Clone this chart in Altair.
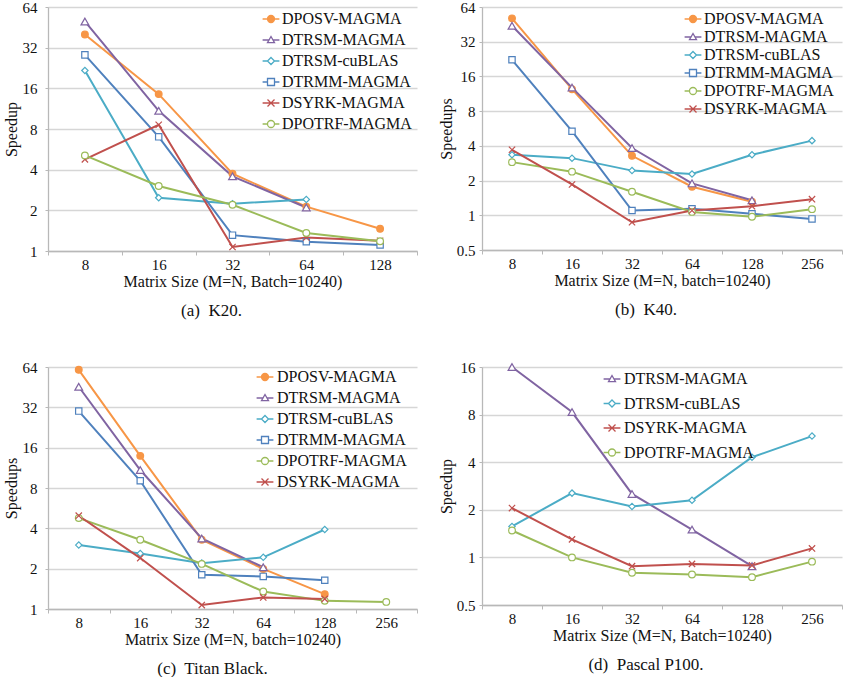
import altair as alt
import pandas as pd

FONT = "Liberation Serif"

# ---------------- data ----------------
sizes5 = ["8", "16", "32", "64", "128"]
sizes6 = ["8", "16", "32", "64", "128", "256"]

# (a) K20
a_dposv = [40, 14.5, 3.73, 2.13, 1.46]
a_trsm_magma = [50, 10.9, 3.57, 2.1, None]
a_trsm_cublas = [21.7, 2.48, 2.24, 2.41, None]
a_trmm = [28.3, 7.0, 1.31, 1.17, 1.11]
a_syrk = [4.77, 8.6, 1.07, 1.26, 1.19]
a_potrf = [5.1, 3.03, 2.2, 1.36, 1.18]

# (b) K40
b_dposv = [51, 12.4, 3.28, 1.77, 1.31, None]
b_trsm_magma = [44, 12.8, 3.83, 1.89, 1.35, None]
b_trsm_cublas = [3.35, 3.13, 2.44, 2.28, 3.35, 4.44]
b_trmm = [22.3, 5.36, 1.1, 1.14, 1.03, 0.93]
b_potrf = [2.89, 2.39, 1.6, 1.07, 0.97, 1.13]
b_syrk = [3.7, 1.85, 0.87, 1.1, 1.2, 1.38]

# (c) Titan Black
c_dposv = [61, 13.9, 3.29, 1.99, 1.29, None]
c_trsm_magma = [45.6, 10.9, 3.36, 2.05, None, None]
c_trsm_cublas = [3.0, 2.6, 2.2, 2.43, 3.92, None]
c_trmm = [30, 9.06, 1.8, 1.75, 1.64, None]
c_potrf = [4.77, 3.29, 2.17, 1.35, 1.15, 1.13]
c_syrk = [4.97, 2.4, 1.07, 1.22, 1.19, None]

# (d) Pascal P100
d_trsm_magma = [16, 8.3, 2.52, 1.5, 0.88, None]
d_trsm_cublas = [1.57, 2.55, 2.1, 2.3, 4.3, 5.85]
d_syrk = [2.05, 1.3, 0.88, 0.91, 0.89, 1.14]
d_potrf = [1.48, 1.0, 0.80, 0.78, 0.75, 0.94]

COLORS = {
    "DPOSV-MAGMA": "#F79646",
    "DTRSM-MAGMA": "#8064A2",
    "DTRSM-cuBLAS": "#4BACC6",
    "DTRMM-MAGMA": "#4F81BD",
    "DSYRK-MAGMA": "#C0504D",
    "DPOTRF-MAGMA": "#9BBB59",
}

XPATH = "M-1,-1L1,1M-1,1L1,-1"
MARKERS = {
    "DPOSV-MAGMA": ("circle", 45, "#F79646"),
    "DTRSM-MAGMA": ("triangle-up", 60, "white"),
    "DTRSM-cuBLAS": ("diamond", 40, "white"),
    "DTRMM-MAGMA": ("square", 40, "white"),
    "DSYRK-MAGMA": (XPATH, 40, "white"),
    "DPOTRF-MAGMA": ("circle", 45, "white"),
}

CIRC = ("M1,0C1,0.5523,0.5523,1,0,1C-0.5523,1,-1,0.5523,-1,0"
        "C-1,-0.5523,-0.5523,-1,0,-1C0.5523,-1,1,-0.5523,1,0Z")
LEG_PATH = {
    "DPOSV-MAGMA": "M-2.4,0L-1,0M1,0L2.4,0" + CIRC,
    "DTRSM-MAGMA": "M-2.4,0L-0.57,0M0.57,0L2.4,0M0,-1L1,0.75L-1,0.75Z",
    "DTRSM-cuBLAS": "M-2.4,0L-1,0M1,0L2.4,0M0,-1L1,0L0,1L-1,0Z",
    "DTRMM-MAGMA": "M-2.4,0L-1,0M1,0L2.4,0M-1,-1L1,-1L1,1L-1,1Z",
    "DSYRK-MAGMA": "M-2.4,0L2.4,0" + XPATH,
    "DPOTRF-MAGMA": "M-2.4,0L-1,0M1,0L2.4,0" + CIRC,
}

AXIS_STYLE = dict(labelFont=FONT, titleFont=FONT, labelFontSize=15, titleFontSize=16,
                  labelColor="#111", titleColor="#111", titleFontWeight="normal",
                  domainColor="#b8b8b8", tickColor="#b8b8b8", gridColor="#d6d6d6",
                  gridWidth=1.3, domainWidth=1.3)


def panel(sizes, series_list, ydom, yvals, ytitle, xtitle, caption,
          width, height, lx, ly, rowpad, loff, cap_dx, ylabpad, ytitlepad):
    rows = []
    for name, vals in series_list:
        for s, v in zip(sizes, vals):
            if v is not None:
                rows.append({"size": s, "series": name, "value": v})
    df = pd.DataFrame(rows)
    names = [n for n, _ in series_list]
    cols = [COLORS[n] for n in names]

    x = alt.X("size:O",
              scale=alt.Scale(type="band", domain=sizes, paddingInner=0, paddingOuter=0),
              bandPosition=0.5,
              axis=alt.Axis(title=xtitle, tickBand="extent", labelAngle=0, grid=False,
                            ticks=True, tickSize=4, labelPadding=2, titlePadding=1, **AXIS_STYLE))
    y = alt.Y("value:Q",
              scale=alt.Scale(type="log", base=2, domain=ydom, nice=False),
              axis=alt.Axis(title=ytitle, values=yvals, labelExpr="'' + datum.value",
                            grid=True, ticks=True, tickSize=3, labelPadding=ylabpad,
                            titlePadding=ytitlepad, **AXIS_STYLE))

    layers = []
    for n in names:
        layers.append(
            alt.Chart(df).transform_filter(alt.datum.series == n)
            .mark_line(strokeWidth=2, color=COLORS[n]).encode(x=x, y=y)
        )
    for n in names:
        shp, sz, fl = MARKERS[n]
        layers.append(
            alt.Chart(df).transform_filter(alt.datum.series == n).mark_point(
                shape=shp, size=sz, filled=True, fill=fl, stroke=COLORS[n],
                strokeWidth=1.2, opacity=1
            ).encode(x=x, y=y)
        )

    leg = alt.Legend(title=None, orient="none", legendX=lx, legendY=ly, rowPadding=rowpad,
                     symbolOpacity=1, labelFont=FONT, labelFontSize=16, labelColor="#111",
                     symbolSize=49, symbolStrokeWidth=1.3, labelOffset=loff)
    legend_layer = alt.Chart(df).mark_point(
        filled=True, opacity=0, strokeWidth=1.3
    ).encode(
        x=x, y=y,
        shape=alt.Shape("series:N", scale=alt.Scale(domain=names, range=[LEG_PATH[n] for n in names]), legend=leg),
        stroke=alt.Stroke("series:N", scale=alt.Scale(domain=names, range=cols), legend=leg),
        fill=alt.Fill("series:N", scale=alt.Scale(domain=names, range=[MARKERS[n][2] for n in names]), legend=leg),
    )
    layers.append(legend_layer)

    return alt.layer(*layers).properties(
        width=width, height=height,
        title=alt.TitleParams(caption, orient="bottom", dx=cap_dx, offset=14, anchor="middle",
                              font=FONT, fontSize=17, fontWeight="normal", color="#111"),
    )


pa = panel(sizes5,
           [("DPOSV-MAGMA", a_dposv), ("DTRSM-MAGMA", a_trsm_magma), ("DTRSM-cuBLAS", a_trsm_cublas),
            ("DTRMM-MAGMA", a_trmm), ("DSYRK-MAGMA", a_syrk), ("DPOTRF-MAGMA", a_potrf)],
           [1, 64], [1, 2, 4, 8, 16, 32, 64], "Speedup", "Matrix Size (M=N, Batch=10240)",
           "(a)\u00a0 K20.", 369, 244, 215, 4, 5, 3, -21, 8, 3)

pb = panel(sizes6,
           [("DPOSV-MAGMA", b_dposv), ("DTRSM-MAGMA", b_trsm_magma), ("DTRSM-cuBLAS", b_trsm_cublas),
            ("DTRMM-MAGMA", b_trmm), ("DPOTRF-MAGMA", b_potrf), ("DSYRK-MAGMA", b_syrk)],
           [0.5, 64], [0.5, 1, 2, 4, 8, 16, 32, 64], "Speedups", "Matrix Size (M=N, batch=10240)",
           "(b)\u00a0 K40.", 360, 243, 203, 4, 2, 3, -16, 4, 2)

pc = panel(sizes6,
           [("DPOSV-MAGMA", c_dposv), ("DTRSM-MAGMA", c_trsm_magma), ("DTRSM-cuBLAS", c_trsm_cublas),
            ("DTRMM-MAGMA", c_trmm), ("DPOTRF-MAGMA", c_potrf), ("DSYRK-MAGMA", c_syrk)],
           [1, 64], [1, 2, 4, 8, 16, 32, 64], "Speedups", "Matrix Size (M=N, batch=10240)",
           "(c)\u00a0 Titan Black.", 369, 242, 209, 2, 5, 4, -20, 8, 3)

pd_ = panel(sizes6,
            [("DTRSM-MAGMA", d_trsm_magma), ("DTRSM-cuBLAS", d_trsm_cublas),
             ("DSYRK-MAGMA", d_syrk), ("DPOTRF-MAGMA", d_potrf)],
            [0.5, 16], [0.5, 1, 2, 4, 8, 16], "Speedup", "Matrix Size (M=N, Batch=10240)",
            "(d)\u00a0 Pascal P100.", 360, 238, 122, 4, 8.5, 4, -16, 4, 2)

IND = dict(shape="independent", stroke="independent", fill="independent")

chart = alt.vconcat(
    alt.hconcat(pa, pb, spacing=20).resolve_scale(**IND),
    alt.hconcat(pc, pd_, spacing=20).resolve_scale(**IND),
    spacing=41,
).resolve_scale(**IND).properties(
    padding={"left": 3, "top": 0, "right": 0, "bottom": 0},
).configure_view(
    stroke=None,
)

chart.save("out.html", embed_options={"renderer": "svg", "actions": False})
